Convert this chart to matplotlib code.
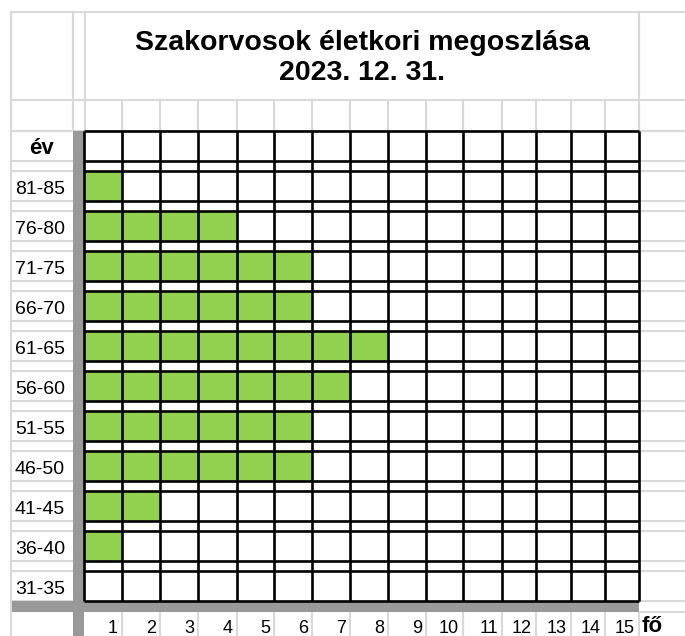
import numpy as np
import matplotlib
matplotlib.use("Agg")
import matplotlib.pyplot as plt
from matplotlib.patches import Rectangle

# ---------------- data ----------------
title_line1 = "Szakorvosok életkori megoszlása"
title_line2 = "2023. 12. 31."
age_groups = ['81-85', '76-80', '71-75', '66-70', '61-65', '56-60',
              '51-55', '46-50', '41-45', '36-40', '31-35']
counts = [1, 4, 6, 6, 8, 7, 6, 6, 2, 1, 0]
x_ticks = list(range(1, 16))
y_header = "év"
x_unit = "fő"

# ---------------- layout / style ----------------
W, H = 685, 636
col_edges_px = [84, 122, 160, 198, 237, 274, 312, 350, 388, 426, 463, 502, 536, 571, 605, 639]
col_idx = np.arange(len(col_edges_px))
top_px, period_px, frac = 131, 40, 0.75
n_rows = len(age_groups) + 1          # header row "év" + age rows
bottom_px = top_px + period_px * (n_rows - 1 + frac)   # 601
green = '#92d050'
lgray = '#d9d9d9'
mgray = '#999999'
font = 'Liberation Sans'
plt.rcParams['font.family'] = [font, 'DejaVu Sans']

fig = plt.figure(figsize=(W / 100, H / 100), dpi=100)

# background "spreadsheet" layer in pixel coordinates
bg = fig.add_axes([0, 0, 1, 1])
bg.set_xlim(0, W)
bg.set_ylim(H, 0)
bg.axis('off')

lw_l = 1.5
for y in (12, 100, top_px):
    bg.plot([11, W], [y, y], color=lgray, lw=lw_l, zorder=1)
for x in (11, 73, 85, 639):
    bg.plot([x, x], [12, top_px], color=lgray, lw=lw_l, zorder=1)
for x in col_edges_px[1:-1]:
    bg.plot([x, x], [100, top_px], color=lgray, lw=lw_l, zorder=1)
row_lines = []
for k in range(n_rows):
    row_lines += [top_px + period_px * k, top_px + period_px * (k + frac)]
for y in row_lines:
    bg.plot([11, 73], [y, y], color=lgray, lw=lw_l, zorder=1)
    bg.plot([639, W], [y, y], color=lgray, lw=lw_l, zorder=1)
bg.plot([11, 11], [12, H], color=lgray, lw=lw_l, zorder=1)
bg.plot([639, W], [612, 612], color=lgray, lw=lw_l, zorder=1)
for x in col_edges_px[1:]:
    bg.plot([x, x], [612, H], color=lgray, lw=lw_l, zorder=1)

# gray axis bands
bg.add_patch(Rectangle((73, top_px), 11, H - top_px, color=mgray, lw=0, zorder=2))
bg.add_patch(Rectangle((12, bottom_px), 639 - 12, 11, color=mgray, lw=0, zorder=2))

# titles
bg.text(362, 50, title_line1, ha='center', va='baseline', fontsize=20.5,
        fontweight='bold', color='black')
bg.text(362, 80, title_line2, ha='center', va='baseline', fontsize=20.5,
        fontweight='bold', color='black')

# row labels
bg.text(42, top_px + 23, y_header, ha='center', va='baseline',
        fontsize=16, fontweight='bold')
for i, lab in enumerate(age_groups):
    yb = top_px + period_px * (i + 1) + 23
    bg.text(15, yb, lab, ha='left', va='baseline', fontsize=14)
# column labels
for j, lab in enumerate(x_ticks):
    bg.text(col_edges_px[j + 1] - 4, 633, str(lab), ha='right', va='baseline',
            fontsize=13)
bg.text(642, 632, x_unit, ha='left', va='baseline', fontsize=16, fontweight='bold')

# ---------------- data axes ----------------
ax = fig.add_axes([84 / W, 1 - bottom_px / H, (639 - 84) / W, (bottom_px - top_px) / H])
fwd = lambda x: np.interp(x, col_idx, col_edges_px)
inv = lambda p: np.interp(p, col_edges_px, col_idx)
ax.set_xscale('function', functions=(fwd, inv))
ax.set_xlim(0, 15)
ax.set_ylim(n_rows - 1 + frac, 0)
ax.axis('off')
ax.patch.set_alpha(0)

row_pos = np.arange(1, n_rows)
ax.barh(row_pos, counts, left=0, height=frac, align='edge', color=green,
        linewidth=0, zorder=2)

lw_b = 1.9
ax.vlines(np.arange(0, 16), 0, n_rows - 1 + frac, color='black', lw=lw_b,
          zorder=3, clip_on=False)
hl = []
for k in range(n_rows):
    hl += [k, k + frac]
ax.hlines(hl, 0, 15, color='black', lw=lw_b, zorder=3, clip_on=False)

fig.savefig('out.png', dpi=100)
